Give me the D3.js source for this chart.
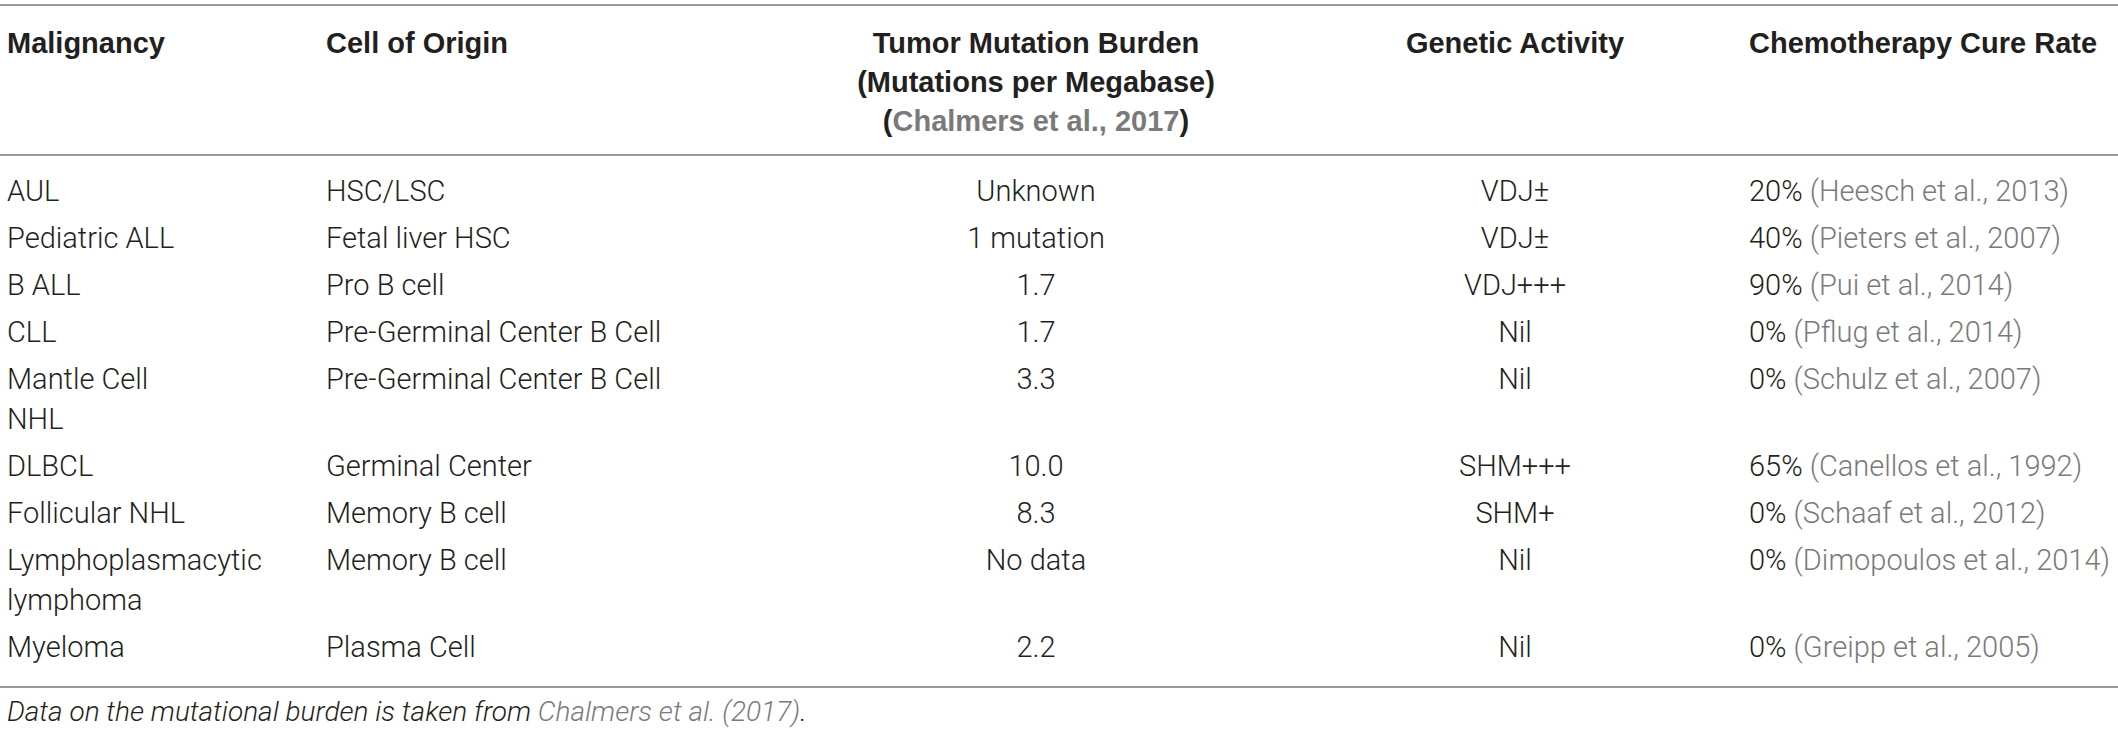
<!DOCTYPE html>
<html>
<head>
<meta charset="utf-8">
<script src="https://cdn.jsdelivr.net/npm/d3@7"></script>
<style>
  html, body { margin: 0; padding: 0; background: #fff; }
</style>
</head>
<body>
<div id="table"></div>
<script>
// table content
const columns = ["malignancy", "origin", "tmb", "activity", "cure"];
const headers = [
  ["Malignancy"],
  ["Cell of Origin"],
  ["Tumor Mutation Burden", "(Mutations per Megabase)", "(|Chalmers et al., 2017|)"],
  ["Genetic Activity"],
  ["Chemotherapy Cure Rate"]
];
const malignancies = [["AUL"], ["Pediatric ALL"], ["B ALL"], ["CLL"], ["Mantle Cell", "NHL"],
  ["DLBCL"], ["Follicular NHL"], ["Lymphoplasmacytic", "lymphoma"], ["Myeloma"]];
const cellOrigin = ["HSC/LSC", "Fetal liver HSC", "Pro B cell", "Pre-Germinal Center B Cell",
  "Pre-Germinal Center B Cell", "Germinal Center", "Memory B cell", "Memory B cell", "Plasma Cell"];
const mutationBurden = ["Unknown", "1 mutation", "1.7", "1.7", "3.3", "10.0", "8.3", "No data", "2.2"];
const geneticActivity = ["VDJ\u00b1", "VDJ\u00b1", "VDJ+++", "Nil", "Nil", "SHM+++", "SHM+", "Nil", "Nil"];
const cureRate = ["20%", "40%", "90%", "0%", "0%", "65%", "0%", "0%", "0%"];
const cureCitation = ["Heesch et al., 2013", "Pieters et al., 2007", "Pui et al., 2014", "Pflug et al., 2014",
  "Schulz et al., 2007", "Canellos et al., 1992", "Schaaf et al., 2012", "Dimopoulos et al., 2014",
  "Greipp et al., 2005"];
const footnote = ["Data on the mutational burden is taken from ", "Chalmers et al. (2017)", "."];

const width = 2118, height = 733;
const ink = "#231f20", cite = "#7a7a7a", rule = "#9a9a9a";
const bodyFont = "Roboto, 'Liberation Sans', sans-serif";
const headFont = "'Liberation Sans', Arial, sans-serif";

const svg = d3.select("#table").append("svg")
  .attr("width", width).attr("height", height);

// column anchors
const colX = d3.scaleOrdinal().domain(columns).range([7, 326, 1036, 1515, 1749]);
const colAnchor = d3.scaleOrdinal().domain(columns).range(["start", "start", "middle", "middle", "start"]);

// rule lines
const ruleY = [5, 155, 687];
svg.append("g").selectAll("line").data(ruleY).join("line")
  .attr("x1", 0).attr("x2", width)
  .attr("y1", d => d).attr("y2", d => d)
  .attr("stroke", rule).attr("stroke-width", 2);

// header
const headG = svg.append("g");
headers.forEach((lines, ci) => {
  lines.forEach((ln, li) => {
    const t = headG.append("text")
      .attr("x", colX(columns[ci]))
      .attr("y", 53 + li * 39)
      .attr("text-anchor", colAnchor(columns[ci]))
      .style("font-family", headFont)
      .attr("font-weight", "bold")
      .attr("font-size", 29)
      .attr("fill", ink);
    ln.split("|").forEach((part, pi) => {
      t.append("tspan").text(part).attr("fill", pi === 1 ? cite : ink);
    });
  });
});

// body rows
const rows = malignancies.map((m, i) => ({
  cells: [m, [cellOrigin[i]], [mutationBurden[i]], [geneticActivity[i]], [cureRate[i] + " |" + cureCitation[i] + "|"]],
  lines: m.length
}));
let rowTop = 169;
rows.forEach(r => { r.top = rowTop; rowTop += 47 + (r.lines - 1) * 40; });

const rowG = svg.append("g").selectAll("g").data(rows).join("g")
  .attr("transform", d => `translate(0,${d.top})`);

rowG.each(function (r) {
  const g = d3.select(this);
  r.cells.forEach((lines, ci) => {
    lines.forEach((ln, li) => {
      const t = g.append("text")
        .attr("x", colX(columns[ci]))
        .attr("y", 32 + li * 40)
        .attr("text-anchor", colAnchor(columns[ci]))
        .style("font-family", bodyFont)
        .attr("font-weight", 300)
        .attr("font-size", 29)
        .attr("fill", ink);
      const parts = ln.split("|");
      if (parts.length === 3) {
        t.append("tspan").text(parts[0]);
        t.append("tspan").text("(").attr("fill", cite);
        t.append("tspan").text(parts[1]).attr("fill", cite);
        t.append("tspan").text(")").attr("fill", cite);
      } else {
        t.text(ln);
      }
    });
  });
});

// footnote
const fn = svg.append("text")
  .attr("x", 7).attr("y", 721)
  .style("font-family", bodyFont)
  .attr("font-style", "italic")
  .attr("font-weight", 300)
  .attr("font-size", 28)
  .attr("fill", ink);
footnote.forEach((part, i) => fn.append("tspan").text(part).attr("fill", i === 1 ? cite : ink));
</script>
</body>
</html>
